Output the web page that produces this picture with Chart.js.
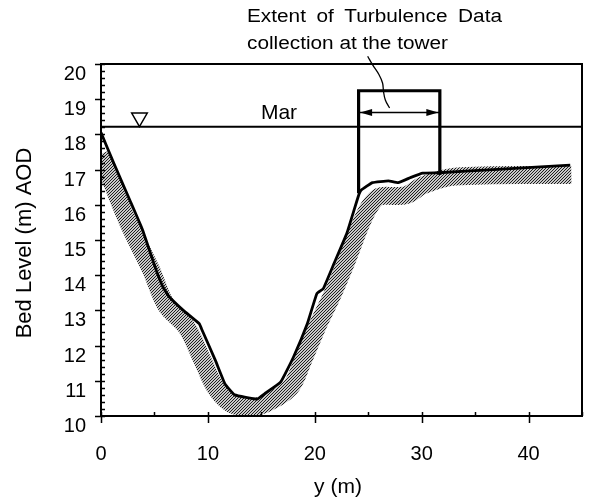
<!DOCTYPE html>
<html>
<head>
<meta charset="utf-8">
<script src="https://cdn.jsdelivr.net/npm/chart.js@4.4.1/dist/chart.umd.min.js"></script>
<style>
html, body { margin: 0; padding: 0; background: #fff; }
#wrap { width: 608px; height: 497px; position: relative; }
</style>
</head>
<body>
<div id="wrap"><canvas id="myChart"></canvas></div>
<script>
'use strict';

// surveyed bed profile (black line)
let bedX = [0, 1.2, 2.7, 3.9, 5.06, 5.8, 6.4, 7.7, 9.2, 9.4, 10.7, 11.6, 12.5, 14.6, 15.3, 16.8, 18.0, 19.3, 20.2, 20.8, 21.8, 23.0, 24.06, 24.35, 25.4, 26.9, 27.8, 29.0, 30.1, 31.6, 36.7, 43.9];
let bedY = [18.05, 17.18, 16.13, 15.28, 14.23, 13.66, 13.38, 13.0, 12.62, 12.48, 11.58, 10.91, 10.6, 10.48, 10.63, 10.96, 11.67, 12.62, 13.48, 13.62, 14.33, 15.19, 16.23, 16.42, 16.63, 16.68, 16.63, 16.78, 16.9, 16.91, 17.0, 17.13];

// hatched band (centre line)
let bandX = [0, 2.45, 4.7, 6.1, 8.0, 9.5, 10.7, 12.2, 13.8, 15.3, 17.7, 18.9, 20.35, 21.7, 23.0, 24.2, 25.1, 26.0, 27.5, 28.65, 30.1, 33.1, 44.0];
let bandY = [17.45, 15.56, 14.14, 13.14, 12.52, 11.58, 10.81, 10.34, 10.25, 10.34, 10.81, 11.58, 12.62, 13.48, 14.42, 15.37, 15.94, 16.23, 16.25, 16.28, 16.55, 16.8, 16.85];

// water level (Mar)
let waterX = [0, 45];
let waterY = [18.22, 18.22];
let markerX = [3.6];
let markerY = [18.48];

// tower extent
let towerX = [24.1, 24.1, 31.7, 31.7];
let towerY = [16.33, 19.24, 19.24, 16.85];
let arrowX = [24.1, 31.7];
let arrowY = [18.62, 18.62];
let leaderX = [24.95, 25.4, 26.0, 26.34, 26.43, 26.6, 27.0];
let leaderY = [20.22, 19.98, 19.7, 19.46, 19.22, 18.98, 18.75];

let xTicks = [0, 10, 20, 30, 40];
let yTicks = [10, 11, 12, 13, 14, 15, 16, 17, 18, 19, 20];

let font = 'Liberation Sans, Arial, sans-serif';

function pts(xs, ys) {
    return xs.map((x, i) => ({ x: x, y: ys[i] }));
}

let canvas = document.getElementById('myChart');
let ctx = canvas.getContext('2d');

function makeHatch() {
    let c = document.createElement('canvas');
    c.width = 3;
    c.height = 3;
    let g = c.getContext('2d');
    g.fillStyle = '#c8c8c8';
    g.fillRect(0, 0, 3, 3);
    g.fillStyle = '#1e1e1e';
    for (let x = 0; x < 3; x++) {
        for (let y = 0; y < 3; y++) {
            if ((x + y) % 3 === 2) g.fillRect(x, y, 1, 1);
        }
    }
    return ctx.createPattern(c, 'repeat');
}

function stretchText(c, text, x, y, sx) {
    c.save();
    c.translate(x, y);
    c.scale(sx, 1);
    c.fillText(text, 0, 0);
    c.restore();
}

let extras = {
    id: 'extras',
    afterDatasetsDraw(chart) {
        let c = chart.ctx;
        let a = chart.chartArea;
        let xs = chart.scales.x;
        let ys = chart.scales.y;
        c.save();
        c.strokeStyle = '#000';
        c.fillStyle = '#000';

        // arrow heads
        let ay = ys.getPixelForValue(arrowY[0]);
        let ax0 = xs.getPixelForValue(arrowX[0]) + 1.5;
        let ax1 = xs.getPixelForValue(arrowX[1]) - 1.5;
        c.beginPath();
        c.moveTo(ax0, ay);
        c.lineTo(ax0 + 12, ay - 3.5);
        c.lineTo(ax0 + 12, ay + 3.5);
        c.closePath();
        c.moveTo(ax1, ay);
        c.lineTo(ax1 - 12, ay - 3.5);
        c.lineTo(ax1 - 12, ay + 3.5);
        c.closePath();
        c.fill();

        // plot frame
        c.lineWidth = 2;
        c.strokeRect(a.left, a.top, a.right - a.left, a.bottom - a.top);

        // ticks
        c.lineWidth = 1.5;
        c.beginPath();
        for (let v = 0; v <= 45; v += 5) {
            let p = Math.round(xs.getPixelForValue(v)) + 0.5;
            if (v % 10 === 0) {
                c.moveTo(p, a.bottom - 4);
                c.lineTo(p, a.bottom + 7);
            } else {
                c.moveTo(p, a.bottom);
                c.lineTo(p, a.bottom - 4);
            }
        }
        for (let i = 0; i <= 50; i++) {
            let p = Math.round(ys.getPixelForValue(10 + i * 0.2)) + 0.5;
            if (i % 5 === 0) {
                c.moveTo(a.left - 6, p);
                c.lineTo(a.left + 4, p);
            } else {
                c.moveTo(a.left, p);
                c.lineTo(a.left + 4, p);
            }
        }
        c.stroke();

        // axis titles
        c.textAlign = 'center';
        c.textBaseline = 'middle';
        c.font = '21px ' + font;
        c.fillText('y (m)', 338, 487);
        c.save();
        c.translate(25, 243);
        c.rotate(-Math.PI / 2);
        c.font = '22px ' + font;
        c.fillText('Bed Level (m) AOD', 0, 0);
        c.restore();

        // water label
        c.font = '21px ' + font;
        c.fillText('Mar', 279, 113);

        // tower note
        c.font = '18px ' + font;
        c.textAlign = 'left';
        c.textBaseline = 'alphabetic';
        let line2 = 'collection at the tower';
        let sx = 201 / c.measureText(line2).width;
        stretchText(c, line2, 247, 48.5, sx);
        let words = ['Extent', 'of', 'Turbulence', 'Data'];
        let widths = words.map(w => c.measureText(w).width * sx);
        let gap = (502 - 247 - widths.reduce((s, w) => s + w, 0)) / (words.length - 1);
        let x = 247;
        words.forEach((w, i) => {
            stretchText(c, w, x, 21.5, sx);
            x += widths[i] + gap;
        });
        c.restore();
    }
};

let myChart = new Chart(ctx, {
    type: 'scatter',
    data: {
        datasets: [{
            label: 'Bed',
            data: pts(bedX, bedY),
            showLine: true,
            borderColor: '#000',
            borderWidth: 2.8,
            pointRadius: 0,
            tension: 0.1,
            order: 2
        }, {
            label: 'Band',
            data: pts(bandX, bandY),
            showLine: true,
            borderColor: makeHatch(),
            borderWidth: 18,
            borderCapStyle: 'butt',
            borderJoinStyle: 'round',
            pointRadius: 0,
            tension: 0.35,
            order: 9
        }, {
            label: 'Water',
            data: pts(waterX, waterY),
            showLine: true,
            borderColor: '#000',
            borderWidth: 2,
            pointRadius: 0,
            order: 3
        }, {
            label: 'Marker',
            data: pts(markerX, markerY),
            showLine: false,
            pointStyle: 'triangle',
            rotation: 180,
            pointRadius: 9,
            backgroundColor: '#fff',
            borderColor: '#000',
            borderWidth: 1.5,
            order: 1
        }, {
            label: 'Tower',
            data: pts(towerX, towerY),
            showLine: true,
            borderColor: '#000',
            borderWidth: 3.2,
            borderJoinStyle: 'miter',
            pointRadius: 0,
            order: 1
        }, {
            label: 'Arrow',
            data: pts(arrowX, arrowY),
            showLine: true,
            borderColor: '#000',
            borderWidth: 1.5,
            pointRadius: 0,
            order: 1
        }, {
            label: 'Leader',
            data: pts(leaderX, leaderY),
            showLine: true,
            borderColor: '#000',
            borderWidth: 1.3,
            pointRadius: 0,
            tension: 0.4,
            clip: false,
            order: 1
        }]
    },
    options: {
        responsive: true,
        maintainAspectRatio: false,
        animation: false,
        layout: { padding: { left: 0, right: 1, top: 64, bottom: 0 } },
        plugins: {
            legend: { display: false },
            tooltip: { enabled: false }
        },
        scales: {
            x: {
                type: 'linear',
                min: 0,
                max: 45,
                grid: { display: false, drawTicks: false },
                border: { display: false },
                ticks: {
                    stepSize: 5,
                    autoSkip: false,
                    maxRotation: 0,
                    padding: 26,
                    color: '#000',
                    font: { family: font, size: 20 },
                    callback: v => xTicks.includes(v) ? String(v) : ''
                },
                afterFit: s => { s.height = 81; }
            },
            y: {
                type: 'linear',
                min: 10,
                max: 20,
                grid: { display: false, drawTicks: false },
                border: { display: false },
                ticks: {
                    stepSize: 1,
                    padding: 15,
                    labelOffset: 10.5,
                    color: '#000',
                    font: { family: font, size: 20 },
                    callback: v => yTicks.includes(v) ? String(v) : ''
                },
                afterFit: s => { s.width = 101; }
            }
        }
    },
    plugins: [extras]
});
</script>
</body>
</html>
